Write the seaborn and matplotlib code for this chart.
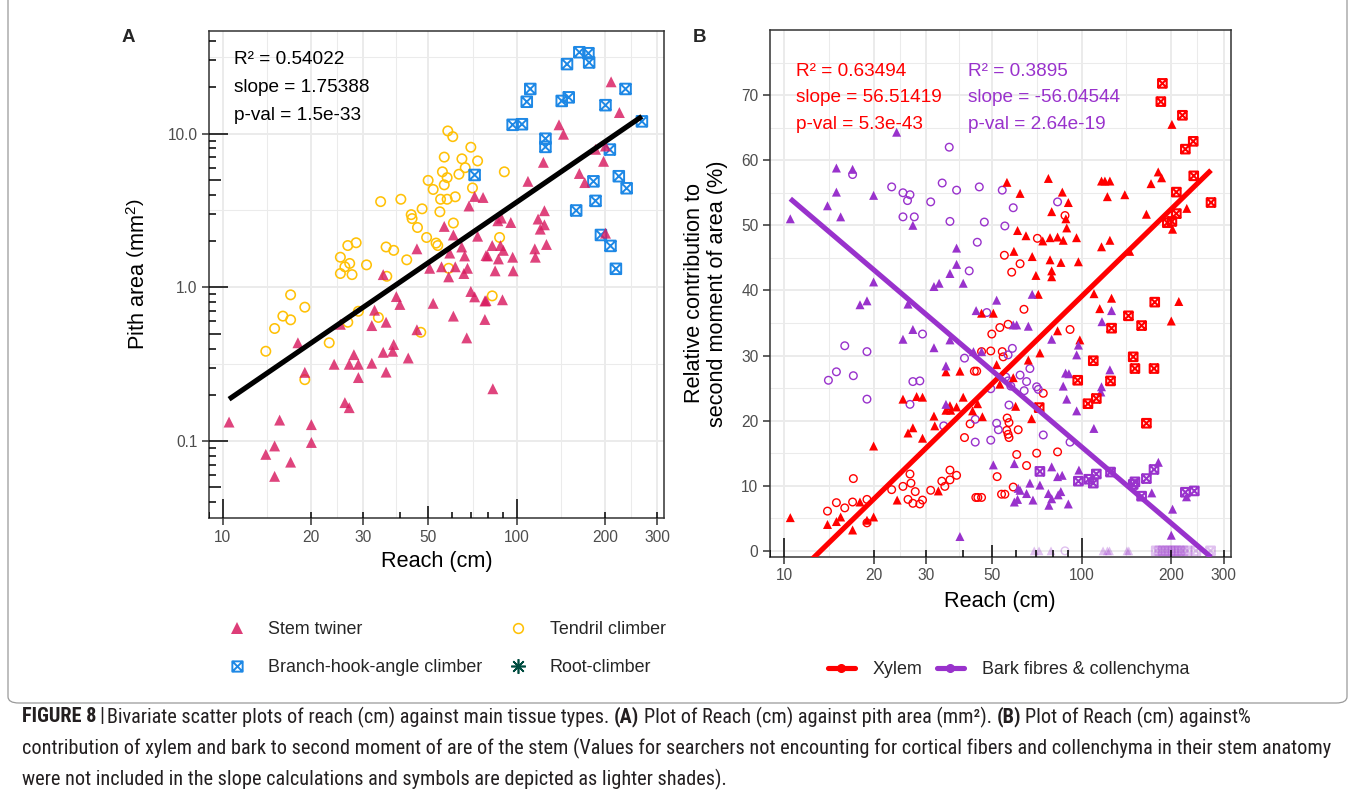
import numpy as np
import pandas as pd
import matplotlib
matplotlib.use("Agg")
import matplotlib.pyplot as plt
import seaborn as sns
from matplotlib.path import Path
from matplotlib.lines import Line2D
from matplotlib import font_manager as fm
from matplotlib.patches import FancyBboxPatch

# ---------------- data: panel A (reach vs pith area) ----------------
stem_x = [10.5, 14.0, 15.0, 15.6, 17.0, 15.0, 20.0, 20.0, 18.0, 19.0,
          23.9, 25.1, 26.0, 26.9, 26.9, 27.9, 28.9, 28.9, 32.1, 32.1,
          32.8, 35.1, 35.9, 35.9, 37.8, 38.1, 38.9, 40.0, 42.7, 35.1,
          45.7, 45.7, 50.5, 51.9, 56.6, 60.8, 59.1, 55.4, 58.6, 60.8,
          61.7, 64.9, 66.4, 66.0, 67.9, 68.7, 67.5, 69.7, 71.8, 71.8,
          73.5, 76.7, 77.8, 78.5, 77.8, 78.5, 79.5, 82.8, 82.4, 84.3,
          86.1, 87.9, 86.5, 88.5, 89.3, 89.9, 95.3, 96.7, 97.1, 109,
          115, 115.5, 118, 120, 123, 124, 124, 126, 139, 144,
          163, 170, 185, 197, 200, 209, 223, 200]
stem_y = [0.133, 0.082, 0.093, 0.137, 0.073, 0.059, 0.128, 0.098, 0.436, 0.280,
          0.316, 0.575, 0.178, 0.165, 0.316, 0.365, 0.316, 0.259, 0.321, 0.564,
          0.710, 0.378, 0.593, 0.281, 0.384, 0.425, 0.871, 0.774, 0.347, 1.21,
          0.530, 1.78, 1.33, 0.787, 2.49, 2.19, 1.67, 1.36, 1.17, 0.650,
          1.36, 1.83, 1.60, 1.23, 1.33, 3.38, 0.469, 0.940, 0.867, 3.90,
          2.15, 3.84, 0.815, 0.820, 0.618, 1.61, 1.60, 0.219, 1.87, 1.28,
          2.71, 1.87, 1.53, 2.82, 0.830, 1.74, 2.64, 1.57, 1.28, 4.89,
          1.78, 1.57, 2.78, 2.39, 6.50, 3.15, 2.55, 1.90, 11.4, 9.90,
          5.50, 4.80, 7.90, 6.60, 2.25, 21.7, 13.7, 8.30]

tendril_x = [14.0, 15.0, 16.0, 17.0, 17.0, 19.0, 19.0, 23.0, 25.1, 25.1,
             26.0, 26.6, 27.0, 27.5, 28.4, 26.6, 28.9, 30.8, 33.8, 34.4,
             35.9, 36.1, 38.1, 40.3, 42.2, 43.7, 44.0, 45.9, 47.1, 47.6,
             49.3, 49.9, 51.9, 53.1, 53.8, 54.7, 55.0, 55.8, 56.6, 56.6,
             57.9, 57.9, 58.2, 60.5, 58.6, 60.8, 61.7, 63.5, 65.0, 66.7,
             69.7, 70.6, 73.5, 82.4, 87.3, 90.6]
tendril_y = [0.384, 0.540, 0.650, 0.615, 0.894, 0.743, 0.251, 0.436, 1.57, 1.23,
             1.36, 1.87, 1.43, 1.21, 1.95, 0.593, 0.699, 1.40, 0.637, 3.61,
             1.83, 1.18, 1.74, 3.74, 1.51, 2.97, 2.80, 2.45, 0.510, 3.24,
             2.11, 4.96, 4.33, 1.94, 1.87, 3.10, 3.74, 5.64, 4.64, 7.03,
             5.17, 3.74, 10.4, 9.55, 1.33, 2.62, 3.88, 5.44, 6.85, 6.00,
             8.15, 4.43, 6.64, 0.880, 2.11, 5.64]

hook_x = [71.8, 96.7, 104, 108, 111, 125, 125, 142, 150, 148,
          163, 175, 176, 159, 182, 185, 193, 200, 207, 208,
          217, 222, 234, 236, 266]
hook_y = [5.38, 11.4, 11.5, 16.1, 19.5, 9.26, 8.19, 16.3, 17.2, 28.3,
          33.8, 33.3, 29.0, 3.16, 4.89, 3.65, 2.19, 15.3, 7.87, 1.86,
          1.32, 5.28, 19.5, 4.41, 12.0]

root_x = [34.8, 38.9, 39.8, 40.9, 44.7, 42.2, 42.5, 47.1, 48.0, 53.7]
root_y = [1.49, 3.16, 2.55, 1.69, 2.51, 1.42, 1.30, 3.15, 2.93, 3.88]

fitA_intercept, fitA_slope = -2.065, 1.31          # log10(pith) = a + b*log10(reach)
statsA = ["R\u00b2 = 0.54022", "slope = 1.75388", "p-val = 1.5e-33"]

# ---------------- data: panel B (reach vs % contribution) ----------------
xyl_tri_x = [10.5, 14.0, 15.0, 15.5, 17.0, 18.0, 19.0, 20.0, 20.0, 24.0,
             25.1, 27.9, 29.2, 26.1, 27.1, 29.2, 31.9, 32.1, 35.0, 36.3,
             38.0, 36.1, 40.0, 43.0, 35.0, 39.0, 33.0, 46.1, 50.5, 83.0,
             98.6, 51.8, 66.2, 72.4, 58.9, 44.7, 60.0, 46.4, 67.9, 56.1,
             62.1, 77.3, 86.1, 90.2, 79.3, 88.5, 89.1, 60.9, 65.0, 74.0,
             78.3, 83.0, 86.7, 96.1, 59.2, 68.2, 78.3, 85.2, 97.5, 70.2,
             79.3, 79.3, 116.6, 119.7, 124.4, 122, 139.6, 171, 180.8, 185.6,
             201, 165, 225.5, 202, 116.6, 124.4, 145, 110, 126, 212,
             71.5, 53.1, 200, 115]
xyl_tri_y = [5.1, 4.05, 4.5, 5.2, 3.2, 7.5, 4.7, 5.2, 16.1, 7.8,
             23.3, 23.7, 23.6, 18.1, 18.9, 17.3, 20.7, 19.2, 21.6, 21.6,
             22.1, 22.3, 23.6, 21.5, 27.5, 27.6, 9.2, 36.5, 36.5, 33.8,
             32.4, 28.6, 29.3, 30.4, 26.6, 22.6, 22.2, 20.6, 20.3, 56.6,
             54.9, 57.2, 55.1, 53.5, 52.1, 51.0, 49.6, 49.2, 48.4, 47.6,
             48.1, 48.2, 47.7, 48.1, 46.0, 45.2, 44.7, 44.3, 44.4, 42.3,
             43.0, 42.1, 56.8, 56.8, 56.8, 54.4, 54.7, 56.4, 58.2, 57.3,
             65.5, 51.7, 52.6, 49.4, 46.7, 47.7, 46.0, 39.5, 38.8, 38.3,
             39.4, 25.6, 35.3, 37.2]

xyl_circ_x = [14.0, 15.0, 16.0, 17.0, 19.0, 19.0, 17.1, 23.0, 25.1, 26.5,
              26.7, 26.1, 27.6, 27.1, 28.6, 29.2, 31.1, 33.9, 34.7, 36.1,
              36.1, 38.0, 40.4, 42.2, 43.6, 44.1, 44.8, 46.1, 52.0, 58.9,
              53.8, 55.2, 60.5, 70.6, 83.0, 65.3, 56.0, 56.6, 57.0, 61.2,
              57.0, 56.2, 74.3, 44.4, 46.1, 49.5, 54.1, 54.5, 56.6, 53.1,
              49.9, 64.0, 91.4, 87.9, 71.0, 55.0, 62.1, 58.2]
xyl_circ_y = [6.1, 7.4, 6.6, 7.5, 7.9, 4.3, 11.1, 9.4, 9.9, 11.8,
              10.4, 7.9, 9.1, 7.3, 7.2, 7.8, 9.3, 10.7, 9.9, 10.9,
              12.4, 11.6, 17.4, 19.5, 27.6, 8.2, 8.2, 8.2, 11.4, 9.8,
              8.7, 8.7, 14.8, 15.0, 15.2, 13.1, 18.5, 17.9, 17.4, 18.6,
              19.7, 20.4, 24.2, 27.6, 30.6, 30.7, 30.6, 29.8, 34.8, 34.3,
              33.3, 37.1, 34.0, 51.5, 48.0, 45.4, 44.1, 42.8]

xyl_ast_x = [35.0, 39.0, 39.8, 43.3, 44.7, 47.3, 53.8]
xyl_ast_y = [8.8, 10.6, 13.3, 15.4, 10.4, 10.9, 23.7]

xyl_box_x = [186.7, 184.5, 218, 237, 223, 238, 208, 208, 194, 201,
             176, 272, 143.6, 126, 159, 109.4, 149, 151, 175, 97,
             125, 105, 112, 72, 165]
xyl_box_y = [71.8, 69.0, 66.9, 62.9, 61.7, 57.6, 55.1, 51.8, 50.4, 50.6,
             38.2, 53.5, 36.1, 34.2, 34.6, 29.2, 29.8, 28.0, 28.0, 26.2,
             26.1, 22.6, 23.4, 22.0, 19.6]

bark_tri_x = [10.5, 14.0, 15.0, 15.0, 15.5, 17.0, 20.0, 23.9, 27.1, 38.0,
              38.0, 36.1, 40.0, 31.9, 33.2, 20.0, 18.0, 19.0, 26.1, 27.1,
              25.1, 31.9, 35.0, 35.0, 36.1, 39.0, 43.3, 44.2, 51.8, 68.2,
              79.3, 97.5, 96.2, 124.4, 88.3, 90.6, 86.7, 116.6, 116.0, 89.1,
              96.2, 109.9, 58.9, 60.5, 66.2, 46.1, 50.5, 59.4, 79.3, 97.9,
              86.0, 83.0, 67.0, 72.4, 61.2, 62.1, 65.3, 77.3, 85.1, 83.4,
              79.3, 90.2, 68.6, 59.4, 60.9, 77.6, 172, 181, 225, 202,
              200, 126, 117]
bark_tri_y = [51.0, 53.0, 58.8, 55.1, 51.3, 58.6, 54.6, 64.3, 50.0, 46.5,
              44.0, 42.6, 41.1, 40.6, 41.1, 41.3, 37.8, 38.4, 37.9, 34.0,
              32.5, 31.2, 28.4, 22.5, 32.4, 2.2, 30.6, 36.9, 38.5, 39.4,
              32.5, 31.6, 30.1, 27.8, 27.3, 27.2, 25.3, 25.2, 24.4, 23.3,
              21.5, 18.8, 34.7, 34.7, 34.5, 30.6, 13.2, 13.4, 12.9, 12.4,
              11.6, 11.4, 10.4, 10.1, 9.6, 9.3, 8.8, 8.8, 9.1, 8.6,
              8.0, 7.2, 7.8, 7.5, 7.9, 7.0, 8.9, 13.6, 8.3, 6.4,
              2.4, 36.9, 35.2]

bark_circ_x = [17.0, 23.0, 25.1, 26.5, 26.0, 31.1, 34.0, 35.9, 38.0, 25.1,
               27.4, 36.1, 44.6, 41.9, 45.3, 54.1, 83.0, 58.9, 47.1, 55.2,
               58.5, 56.6, 67.0, 62.1, 65.3, 70.6, 71.5, 64.1, 55.6, 56.6,
               57.8, 49.5, 51.8, 52.5, 74.3, 91.4, 49.5, 48.0, 16.0, 19.0,
               14.1, 15.0, 17.1, 19.0, 27.1, 28.6, 26.5, 29.2, 40.4, 34.4,
               43.9, 43.9, 57.0]
bark_circ_y = [57.8, 55.9, 55.0, 54.7, 53.8, 53.6, 56.5, 62.0, 55.4, 51.3,
               51.3, 50.6, 47.4, 43.0, 55.9, 55.4, 53.6, 52.7, 50.5, 49.9,
               31.1, 30.1, 28.0, 27.0, 26.0, 25.2, 24.8, 24.6, 26.7, 26.1,
               25.3, 24.9, 19.6, 18.6, 17.8, 16.7, 17.0, 36.6, 31.5, 30.6,
               26.2, 27.5, 26.9, 23.3, 26.0, 26.1, 22.5, 33.3, 29.6, 19.2,
               20.2, 16.7, 22.4]

bark_ast_x = [44.8, 41.1, 39.0, 54.6, 48.0, 47.1, 35.2, 40.0, 41.1, 42.7]
bark_ast_y = [33.4, 32.1, 29.8, 22.2, 17.5, 16.0, 13.4, 14.0, 13.5, 13.2]

bark_box_x = [72.4, 97.5, 105.7, 109.4, 112, 125, 149, 151, 159, 165, 175, 223, 239]
bark_box_y = [12.2, 10.7, 11.0, 10.4, 11.8, 12.1, 10.2, 10.6, 8.4, 11.1, 12.5, 9.0, 9.2]

# searchers without cortical fibres (value 0, lighter shade)
zero_tri_x = [69.3, 71.9, 78.9, 118, 122, 124, 142, 144]
zero_circ_x = [87.9]
zero_box_x = [178, 183, 188, 193, 198, 203, 208, 213, 219, 226, 242, 271]

fitB_xyl = (-50.07, 44.58)    # % = a + b*log10(reach)
fitB_bark = (93.86, -38.95)
statsB_xyl = ["R\u00b2 = 0.63494", "slope = 56.51419", "p-val = 5.3e-43"]
statsB_bark = ["R\u00b2 = 0.3895", "slope = -56.04544", "p-val = 2.64e-19"]

climber_types = ["Stem twiner", "Tendril climber", "Branch-hook-angle climber", "Root-climber"]
tissue_types = ["Xylem", "Bark fibres & collenchyma"]
x_breaks = [10, 20, 30, 50, 100, 200, 300]
yA_breaks = [0.1, 1, 10]
yA_labels = ["0.1", "1.0", "10.0"]
yB_breaks = [0, 10, 20, 30, 40, 50, 60, 70]

caption_lines = [
    [("FIGURE 8", "bold"), ("|", "normal"),
     ("Bivariate scatter plots of reach (cm) against main tissue types.", "normal"),
     ("(A)", "bold"), ("Plot of Reach (cm) against pith area (mm\u00b2).", "normal"),
     ("(B)", "bold"), ("Plot of Reach (cm) against%", "normal")],
    [("contribution of xylem and bark to second moment of are of the stem (Values for searchers "
      "not encounting for cortical fibers and collenchyma in their stem anatomy", "normal")],
    [("were not included in the slope calculations and symbols are depicted as lighter shades).", "normal")],
]

# ---------------- style ----------------
sns.set_theme(style="white")
plt.rcParams['font.family'] = ['Liberation Sans', 'DejaVu Sans']
plt.rcParams['mathtext.fontset'] = 'custom'
plt.rcParams['mathtext.rm'] = 'Liberation Sans'
plt.rcParams['mathtext.it'] = 'Liberation Sans:italic'
plt.rcParams['mathtext.bf'] = 'Liberation Sans:bold'

C_STEM, C_TEND, C_HOOK, C_ROOT = "#D81B60", "#FFC107", "#1E88E5", "#004D40"
C_XYL, C_BARK = "#FF0000", "#9932CC"
GRID = "#EBEBEB"
BORDER = "#333333"
TICKTXT = "#4D4D4D"

W, H, DPI = 1355, 793, 100
fig = plt.figure(figsize=(W / DPI, H / DPI), dpi=DPI)
fig.patch.set_facecolor("white")


def rect(l, t, r, b):
    return [l / W, 1 - b / H, (r - l) / W, (b - t) / H]


A_BOX = (209, 31, 664, 518)
B_BOX = (770, 30, 1230.5, 556.7)
axA = fig.add_axes(rect(*A_BOX))
axB = fig.add_axes(rect(*B_BOX))

# box-cross marker (square with an X) and 8-arm asterisk
boxcross = Path([(-1, -1), (1, -1), (1, 1), (-1, 1), (-1, -1),
                 (-1, -1), (1, 1), (-1, 1), (1, -1)],
                [Path.MOVETO, Path.LINETO, Path.LINETO, Path.LINETO, Path.CLOSEPOLY,
                 Path.MOVETO, Path.LINETO, Path.MOVETO, Path.LINETO])
asterisk = (8, 2, 0)

XLIM = (10 ** 0.953, 10 ** 2.5)


def style_axes(ax, box):
    ax.set_facecolor("white")
    ax.set_xscale("log")
    ax.set_xlim(*XLIM)
    ax.set_xticks(x_breaks)
    ax.set_xticklabels([str(v) for v in x_breaks])
    mids = [np.sqrt(a * b) for a, b in zip(x_breaks[:-1], x_breaks[1:])]
    ax.set_xticks(mids, minor=True)
    ax.grid(True, which="major", color=GRID, lw=1.4, zorder=0)
    ax.grid(True, which="minor", color=GRID, lw=0.75, zorder=0)
    ax.set_axisbelow(True)
    for sp in ax.spines.values():
        sp.set_visible(True)
        sp.set_color(BORDER)
        sp.set_linewidth(1.1)
    ax.tick_params(which="major", direction="out", length=5, width=1.1, color=BORDER,
                   labelsize=11.2, labelcolor=TICKTXT, pad=3.3,
                   bottom=True, left=True, top=False, right=False)
    ax.tick_params(which="minor", length=0, bottom=False, left=False)


def logticks(ax, axis, box, lo, hi):
    l, t, r, b = box
    span = (b - t) if axis == "x" else (r - l)
    for e in range(lo, hi + 1):
        for m in range(1, 10):
            v = m * 10.0 ** e
            L = 19 if m == 1 else (12 if m == 5 else 6.5)
            f = L / span
            if axis == "x":
                ax.plot([v, v], [0, f], transform=ax.get_xaxis_transform(), color="black",
                        lw=1.1, solid_capstyle="butt", zorder=5)
            else:
                ax.plot([0, f], [v, v], transform=ax.get_yaxis_transform(), color="black",
                        lw=1.1, solid_capstyle="butt", zorder=5)


def scat(ax, xs, ys, marker, color, s, filled, lw=1.0, alpha=1.0, z=3):
    df = pd.DataFrame({"x": xs, "y": ys})
    if filled:
        sns.scatterplot(data=df, x="x", y="y", ax=ax, marker=marker, s=s, color=color,
                        edgecolor="none", linewidth=0, alpha=alpha, zorder=z, legend=False)
    else:
        sns.scatterplot(data=df, x="x", y="y", ax=ax, marker=marker, s=s,
                        facecolors="none", edgecolor=color, linewidth=lw, alpha=alpha,
                        zorder=z, legend=False)


# ---------------- panel A ----------------
style_axes(axA, A_BOX)
axA.set_yscale("log")
axA.set_ylim(10 ** -1.366, 10 ** 1.667)
axA.set_yticks(yA_breaks)
axA.set_yticklabels(yA_labels)
axA.set_yticks([10 ** -1.5, 10 ** -0.5, 10 ** 0.5, 10 ** 1.5], minor=True)
axA.yaxis.set_minor_formatter(plt.NullFormatter())
axA.xaxis.set_minor_formatter(plt.NullFormatter())

scat(axA, tendril_x, tendril_y, "o", C_TEND, 46, False, lw=1.15)
scat(axA, hook_x, hook_y, boxcross, C_HOOK, 58, False, lw=1.4)
scat(axA, root_x, root_y, asterisk, C_ROOT, 110, False, lw=1.2)
scat(axA, stem_x, stem_y, "^", C_STEM, 62, True, alpha=0.82)

xa = np.geomspace(min(stem_x + tendril_x + hook_x + root_x), max(stem_x + tendril_x + hook_x + root_x), 60)
fitA = pd.DataFrame({"x": xa, "y": 10 ** (fitA_intercept + fitA_slope * np.log10(xa))})
sns.lineplot(data=fitA, x="x", y="y", ax=axA, color="black", lw=3.7, zorder=6,
             solid_capstyle="butt")

logticks(axA, "x", A_BOX, 0, 2)
logticks(axA, "y", A_BOX, -2, 1)

for i, s in enumerate(statsA):
    axA.text((234 - A_BOX[0]) / (A_BOX[2] - A_BOX[0]), 1 - (60 + 27.8 * i - A_BOX[1]) / (A_BOX[3] - A_BOX[1]),
             s, transform=axA.transAxes, fontsize=13.7, color="black", va="center", ha="left")

axA.set_xlabel("Reach (cm)", fontsize=15.6, color="black")
axA.set_ylabel(r"Pith area $\left(\mathrm{mm}^{2}\right)$", fontsize=15.6, color="black")
axA.xaxis.set_label_coords(0.5, (A_BOX[3] - 562) / (A_BOX[3] - A_BOX[1]))
axA.xaxis.label.set_va("center")
axA.yaxis.set_label_coords((139 - A_BOX[0]) / (A_BOX[2] - A_BOX[0]), 0.5)
axA.yaxis.label.set_va("center")

# ---------------- panel B ----------------
style_axes(axB, B_BOX)
axB.set_ylim(-0.9, 80.0)
axB.set_yticks(yB_breaks)
axB.set_yticklabels([str(v) for v in yB_breaks])
axB.set_yticks([v + 5 for v in yB_breaks], minor=True)
axB.xaxis.set_minor_formatter(plt.NullFormatter())
axB.yaxis.set_minor_formatter(plt.NullFormatter())

scat(axB, zero_tri_x, [0] * len(zero_tri_x), "^", C_BARK, 40, True, alpha=0.3)
scat(axB, zero_circ_x, [0] * len(zero_circ_x), "o", C_BARK, 30, False, lw=1.0, alpha=0.3)
scat(axB, zero_box_x, [0] * len(zero_box_x), boxcross, C_BARK, 38, False, lw=1.5, alpha=0.3)

scat(axB, xyl_circ_x, xyl_circ_y, "o", C_XYL, 30, False, lw=1.0)
scat(axB, bark_circ_x, bark_circ_y, "o", C_BARK, 30, False, lw=1.0)
scat(axB, xyl_tri_x, xyl_tri_y, "^", C_XYL, 42, True)
scat(axB, bark_tri_x, bark_tri_y, "^", C_BARK, 42, True)
scat(axB, xyl_ast_x, xyl_ast_y, asterisk, C_XYL, 60, False, lw=1.0)
scat(axB, bark_ast_x, bark_ast_y, asterisk, C_BARK, 60, False, lw=1.0)
scat(axB, xyl_box_x, xyl_box_y, boxcross, C_XYL, 38, False, lw=1.5)
scat(axB, bark_box_x, bark_box_y, boxcross, C_BARK, 38, False, lw=1.5)

allBx = xyl_tri_x + xyl_circ_x + xyl_box_x + xyl_ast_x
xb = np.geomspace(min(allBx), max(allBx), 60)
for (a, b), col in [(fitB_xyl, C_XYL), (fitB_bark, C_BARK)]:
    dfl = pd.DataFrame({"x": xb, "y": a + b * np.log10(xb)})
    sns.lineplot(data=dfl, x="x", y="y", ax=axB, color=col, lw=3.7, zorder=6,
                 solid_capstyle="butt")

logticks(axB, "x", B_BOX, 0, 2)

for stats, col, x0 in [(statsB_xyl, C_XYL, 796), (statsB_bark, C_BARK, 968)]:
    for i, s in enumerate(stats):
        axB.text((x0 - B_BOX[0]) / (B_BOX[2] - B_BOX[0]), 1 - (71 + 26.6 * i - B_BOX[1]) / (B_BOX[3] - B_BOX[1]),
                 s, transform=axB.transAxes, fontsize=13.7, color=col, va="center", ha="left")

axB.set_xlabel("Reach (cm)", fontsize=15.6, color="black")
axB.set_ylabel("Relative contribution to\nsecond moment of area (%)", fontsize=15.6,
               color="black", linespacing=1.1)
axB.xaxis.set_label_coords(0.5, (B_BOX[3] - 601) / (B_BOX[3] - B_BOX[1]))
axB.xaxis.label.set_va("center")
axB.yaxis.set_label_coords((706 - B_BOX[0]) / (B_BOX[2] - B_BOX[0]), 0.5)
axB.yaxis.label.set_va("center")

# panel letters
fig.text(128 / W, 1 - 37 / H, "A", fontsize=13.5, fontweight="bold", ha="center", va="center")
fig.text(700 / W, 1 - 37 / H, "B", fontsize=13.5, fontweight="bold", ha="center", va="center")

# ---------------- legends ----------------
hA = [Line2D([], [], ls="none", marker="^", color=C_STEM, markersize=8.2, alpha=0.85, markeredgewidth=0),
      Line2D([], [], ls="none", marker=boxcross, markerfacecolor="none", markeredgecolor=C_HOOK,
             markersize=7.4, markeredgewidth=1.4),
      Line2D([], [], ls="none", marker="o", markerfacecolor="none", markeredgecolor=C_TEND,
             markersize=7.0, markeredgewidth=1.15),
      Line2D([], [], ls="none", marker=asterisk, color=C_ROOT, markersize=10.5, markeredgewidth=1.2)]
lA = [climber_types[0], climber_types[2], climber_types[1], climber_types[3]]
fig.legend(hA, lA, loc="upper left", bbox_to_anchor=(228 / W, 1 - 621 / H), ncol=2,
           frameon=False, fontsize=12.9, handlelength=1.0, handletextpad=1.25,
           columnspacing=1.5, labelspacing=1.17, borderpad=0, borderaxespad=0)

hB = [Line2D([], [], color=C_XYL, lw=3.7, marker="o", markersize=5.5),
      Line2D([], [], color=C_BARK, lw=3.7, marker="o", markersize=5.5)]
fig.legend(hB, tissue_types, loc="upper left", bbox_to_anchor=(828 / W, 1 - 661 / H), ncol=2,
           frameon=False, fontsize=12.9, handlelength=1.5, handletextpad=1.0,
           columnspacing=0.8, borderpad=0, borderaxespad=0)

# ---------------- frame & caption ----------------
frame = FancyBboxPatch((8 / W, 1 - 703 / H), (1347 - 8) / W, 720 / H,
                       boxstyle="round,pad=0,rounding_size=0.008", transform=fig.transFigure,
                       facecolor="none", edgecolor="#9A9A9A", lw=0.9, zorder=-5)
fig.patches.append(frame)


def pick_condensed():
    prefs = ["Liberation Sans Narrow", "Arial Narrow", "Roboto Condensed", "Noto Sans",
             "Open Sans", "DejaVu Sans", "Noto Sans Display"]
    found = {}
    for f in fm.fontManager.ttflist:
        name = f.name
        st = str(f.stretch)
        cond = ("Narrow" in name or "Condensed" in name or
                st in ("condensed", "semi-condensed", "extra-condensed", "ultra-condensed")
                or "Condensed" in f.fname or "Narrow" in f.fname)
        if not cond or f.style != "normal":
            continue
        if "Extra" in f.fname or "Ultra" in f.fname or "Semi" in f.fname:
            continue
        try:
            wt = int(f.weight)
        except (TypeError, ValueError):
            wt = {"normal": 400, "regular": 400, "bold": 700}.get(str(f.weight), 0)
        base = name
        for p in prefs:
            if name.startswith(p):
                base = p
        if wt in (400, 700):
            found.setdefault(base, {})[wt] = f.fname
    for p in prefs:
        if p in found and 400 in found[p]:
            reg = fm.FontProperties(fname=found[p][400])
            bld = fm.FontProperties(fname=found[p][700]) if 700 in found[p] else None
            return reg, bld
    return None, None


reg_fp, bold_fp = pick_condensed()
fig.canvas.draw()
renderer = fig.canvas.get_renderer()


def make_text(x, y, txt, size, weight):
    if reg_fp is not None:
        fp = bold_fp if (weight == "bold" and bold_fp is not None) else reg_fp
        fp = fp.copy()
        fp.set_size(size)
        t = fig.text(x, y, txt, fontproperties=fp, color="#231F20", ha="left", va="center")
        if weight == "bold" and bold_fp is None:
            t.set_fontweight("bold")
    else:
        t = fig.text(x, y, txt, fontsize=size, fontweight=weight, color="#231F20",
                     ha="left", va="center")
    return t


def seg_width(txt, size, weight):
    t = make_text(0, 0, txt, size, weight)
    w = t.get_window_extent(renderer).width
    t.remove()
    return w


cap_size = 12.0
line2 = caption_lines[1][0][0]
for _ in range(3):
    cap_size = cap_size * 1313.0 / seg_width(line2, cap_size, "normal")
space_w = seg_width("a a", cap_size, "normal") - seg_width("aa", cap_size, "normal")

for li, segs in enumerate(caption_lines):
    x = 22.0
    y = 717 + 31 * li
    for txt, wt in segs:
        t = make_text(x / W, 1 - y / H, txt, cap_size, wt)
        x += t.get_window_extent(renderer).width + space_w * (0.6 if txt in ("FIGURE 8", "|") else 1.0)

fig.savefig("out.png", dpi=DPI, facecolor="white")
